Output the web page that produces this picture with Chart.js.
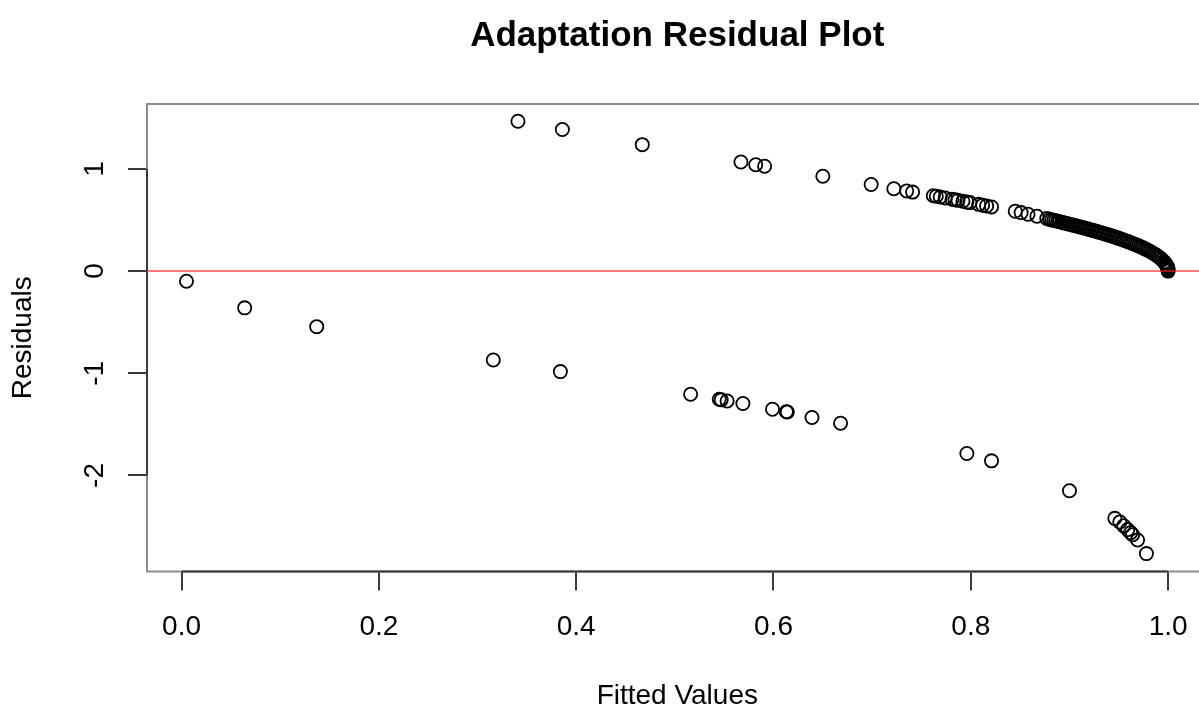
<!DOCTYPE html>
<html>
<head>
<meta charset="utf-8">
<title>Adaptation Residual Plot</title>
<script src="https://cdn.jsdelivr.net/npm/chart.js@4.4.1/dist/chart.umd.min.js"></script>
<style>
  html, body { margin: 0; padding: 0; overflow: hidden; background: #fff; }
  canvas { display: block; }
</style>
</head>
<body>
<canvas id="residChart" width="1216" height="709"></canvas>
<script>
// fitted values / deviance residuals
// cases observed as 0 (lower branch)
const lowerFitted = [0.005, 0.064, 0.137, 0.316, 0.384, 0.516, 0.545, 0.547, 0.553, 0.569,
  0.599, 0.613, 0.614, 0.639, 0.668, 0.796, 0.821, 0.900, 0.946, 0.951,
  0.955, 0.959, 0.962, 0.964, 0.969, 0.978];
const lowerResid = [-0.100, -0.360, -0.544, -0.870, -0.984, -1.205, -1.254, -1.260, -1.271, -1.296,
  -1.352, -1.377, -1.379, -1.433, -1.489, -1.785, -1.857, -2.150, -2.420, -2.455,
  -2.493, -2.530, -2.560, -2.581, -2.632, -2.765];

// cases observed as 1 (upper branch), incl. the dense run up to 1.0
const upperFitted = [0.341, 0.386, 0.467, 0.567, 0.582, 0.591, 0.650, 0.699, 0.722, 0.735, 0.741,
  0.762, 0.765, 0.769, 0.774, 0.781, 0.784, 0.787, 0.792, 0.796, 0.799, 0.808, 0.812, 0.816, 0.821,
  0.845, 0.851, 0.858, 0.867, 0.877,
  0.880, 0.882, 0.884, 0.886, 0.888, 0.890, 0.892, 0.894, 0.896, 0.898,
  0.900, 0.902, 0.904, 0.906, 0.908, 0.910, 0.912, 0.914, 0.916, 0.918,
  0.920, 0.922, 0.924, 0.926, 0.928, 0.930, 0.932, 0.934, 0.936, 0.938,
  0.940, 0.942, 0.944, 0.946, 0.948, 0.950, 0.952, 0.954, 0.956, 0.958,
  0.960, 0.962, 0.964, 0.966, 0.968, 0.970, 0.972, 0.974, 0.976, 0.978,
  0.980, 0.982, 0.984, 0.986, 0.988, 0.990, 0.992, 0.994, 0.996, 0.997,
  0.998, 0.9985, 0.999, 0.9994, 0.9997, 0.9999, 1.000];
const upperResid = [1.466, 1.385, 1.237, 1.067, 1.041, 1.026, 0.928, 0.847, 0.806, 0.784, 0.773,
  0.737, 0.732, 0.725, 0.716, 0.703, 0.698, 0.692, 0.683, 0.675, 0.670, 0.653, 0.645, 0.638, 0.628,
  0.585, 0.572, 0.556, 0.536, 0.514,
  0.506, 0.501, 0.497, 0.492, 0.487, 0.483, 0.478, 0.473, 0.469, 0.464,
  0.459, 0.454, 0.449, 0.444, 0.439, 0.434, 0.429, 0.424, 0.419, 0.414,
  0.408, 0.403, 0.398, 0.392, 0.387, 0.381, 0.375, 0.370, 0.364, 0.358,
  0.352, 0.346, 0.340, 0.333, 0.327, 0.320, 0.314, 0.307, 0.300, 0.293,
  0.286, 0.278, 0.271, 0.263, 0.255, 0.247, 0.238, 0.230, 0.220, 0.211,
  0.201, 0.191, 0.180, 0.168, 0.155, 0.142, 0.127, 0.110, 0.090, 0.078,
  0.063, 0.055, 0.045, 0.035, 0.025, 0.014, 0.000];

const xTicks = [0, 0.2, 0.4, 0.6, 0.8, 1.0];
const yTicks = [-2, -1, 0, 1];
const xRange = [-0.035, 1.04];
const yRange = [-2.94, 1.635];
const zeroLine = 0;

const toPoints = (xs, ys) => xs.map((x, i) => ({ x: x, y: ys[i] }));

Chart.defaults.font.family = "'Liberation Sans', Arial, Helvetica, sans-serif";
Chart.defaults.color = '#000';

// R-ish frame: grey box, darker axis lines between first and last tick, red h-line
const rFrame = {
  id: 'rFrame',
  beforeDatasetsDraw(chart) {
    const { ctx, chartArea: a, scales: { x, y } } = chart;
    ctx.save();
    ctx.lineWidth = 2;
    ctx.strokeStyle = '#8c8c8c';
    ctx.strokeRect(a.left, a.top, a.right - a.left, a.bottom - a.top);
    ctx.strokeStyle = '#3a3a3a';
    ctx.beginPath();
    ctx.moveTo(x.getPixelForValue(xTicks[0]), a.bottom);
    ctx.lineTo(x.getPixelForValue(xTicks[xTicks.length - 1]), a.bottom);
    ctx.moveTo(a.left, y.getPixelForValue(yTicks[0]));
    ctx.lineTo(a.left, y.getPixelForValue(yTicks[yTicks.length - 1]));
    ctx.stroke();
    ctx.restore();
  },
  afterDatasetsDraw(chart) {
    const { ctx, chartArea: a, scales: { y } } = chart;
    const py = y.getPixelForValue(zeroLine);
    ctx.save();
    ctx.strokeStyle = 'rgba(255, 30, 30, 0.8)';
    ctx.lineWidth = 1.6;
    ctx.beginPath();
    ctx.moveTo(a.left, py);
    ctx.lineTo(a.right, py);
    ctx.stroke();
    ctx.restore();
  }
};

const pointStyle = {
  pointRadius: 6.6,
  pointHoverRadius: 6.6,
  pointBorderWidth: 1.8,
  pointBorderColor: '#000',
  pointBackgroundColor: 'rgba(0,0,0,0)',
  showLine: false
};

const tickGrid = {
  display: true,
  drawOnChartArea: false,
  drawTicks: true,
  tickLength: 19,
  color: '#3a3a3a',
  lineWidth: 2
};

new Chart(document.getElementById('residChart'), {
  type: 'scatter',
  data: {
    datasets: [
      Object.assign({ label: 'observed 0', data: toPoints(lowerFitted, lowerResid) }, pointStyle),
      Object.assign({ label: 'observed 1', data: toPoints(upperFitted, upperResid) }, pointStyle)
    ]
  },
  options: {
    responsive: false,
    animation: false,
    layout: { padding: { left: 0, right: 8, top: 0, bottom: 0 } },
    plugins: {
      legend: { display: false },
      tooltip: { enabled: false },
      title: {
        display: true,
        text: 'Adaptation Residual Plot',
        fullSize: false,
        color: '#000',
        font: { size: 35, weight: 'bold', lineHeight: 1.2 },
        padding: { top: 15, bottom: 47 }
      }
    },
    scales: {
      x: {
        type: 'linear',
        min: xRange[0],
        max: xRange[1],
        afterFit(scale) { scale.height = 137.5; },
        afterBuildTicks(scale) { scale.ticks = xTicks.map(v => ({ value: v })); },
        grid: tickGrid,
        border: { display: false },
        ticks: {
          padding: 19.7,
          autoSkip: false,
          maxRotation: 0,
          font: { size: 28 },
          callback: v => Number(v).toFixed(1)
        },
        title: {
          display: true,
          text: 'Fitted Values',
          font: { size: 28 },
          padding: { top: 0, bottom: -3.6 }
        }
      },
      y: {
        type: 'linear',
        min: yRange[0],
        max: yRange[1],
        afterFit(scale) { scale.width = 147; },
        afterBuildTicks(scale) { scale.ticks = yTicks.map(v => ({ value: v })); },
        grid: tickGrid,
        border: { display: false },
        ticks: {
          padding: 20.3,
          autoSkip: false,
          minRotation: 90,
          maxRotation: 90,
          crossAlign: 'center',
          font: { size: 28 },
          callback: v => String(v)
        },
        title: {
          display: true,
          text: 'Residuals',
          font: { size: 28 },
          padding: { top: 6.5, bottom: 0 }
        }
      }
    }
  },
  plugins: [rFrame]
});
</script>
</body>
</html>
